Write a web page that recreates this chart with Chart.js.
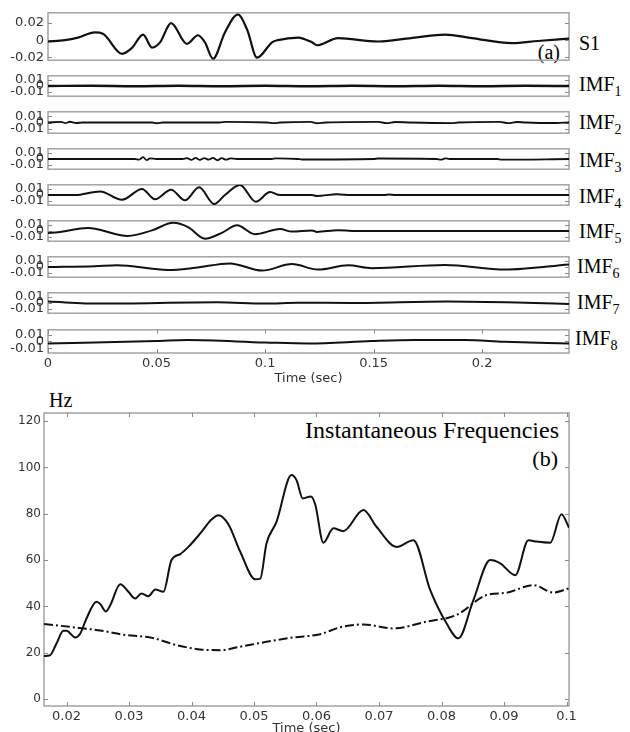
<!DOCTYPE html>
<html><head><meta charset="utf-8">
<script src="https://cdn.jsdelivr.net/npm/chart.js@4.4.1/dist/chart.umd.min.js"></script>
<style>
html,body{margin:0;padding:0;background:#fff}
body{width:630px;height:732px;overflow:hidden;position:relative}
canvas{position:absolute;left:0}
.lbl{position:absolute;font-family:'Liberation Serif','Times New Roman',serif;color:#000;white-space:nowrap;line-height:1;font-size:20px}
.lbl sub{font-size:14px;vertical-align:-5px;line-height:1}
</style></head><body>
<div class="lbl" style="left:579px;top:33px">S1</div>
<div class="lbl" style="left:579px;top:74px">IMF<sub>1</sub></div>
<div class="lbl" style="left:579px;top:112px">IMF<sub>2</sub></div>
<div class="lbl" style="left:579px;top:150px">IMF<sub>3</sub></div>
<div class="lbl" style="left:579px;top:186px">IMF<sub>4</sub></div>
<div class="lbl" style="left:579px;top:221px">IMF<sub>5</sub></div>
<div class="lbl" style="left:577px;top:256px">IMF<sub>6</sub></div>
<div class="lbl" style="left:577px;top:292px">IMF<sub>7</sub></div>
<div class="lbl" style="left:575px;top:328px">IMF<sub>8</sub></div>
<div class="lbl" style="right:70px;top:42px">(a)</div>
<div class="lbl" style="left:49px;top:390px">Hz</div>
<div class="lbl" style="right:71px;top:418px;font-size:24px">Instantaneous Frequencies</div>
<div class="lbl" style="right:72px;top:448px;font-size:22px">(b)</div>
<script>
// ---------- DATA ----------
const timeTicksTop = [0, 0.05, 0.1, 0.15, 0.2];
const s1Ticks = [-0.02, 0, 0.02];
const imfTicks = [-0.01, 0, 0.01];

const tS1 = [0, 0.0078, 0.0138, 0.0216, 0.0253, 0.0341, 0.0387, 0.0438, 0.0479, 0.0516, 0.0567, 0.064, 0.0691, 0.0723, 0.076, 0.0815, 0.0875, 0.0917, 0.0963, 0.1032, 0.1059, 0.1152, 0.1216, 0.1239, 0.1336, 0.152, 0.169, 0.1829, 0.1953, 0.2137, 0.2257, 0.24];
const vS1 = [-0.0016, 0, 0.003, 0.009, 0.0075, -0.016, -0.009, 0.0065, -0.0087, -0.0026, 0.020, -0.0043, 0.0057, -0.0026, -0.0218, 0.009, 0.030, 0.0125, -0.0205, -0.0026, 0, 0.003, -0.0026, -0.006, 0.0024, -0.0016, 0.003, 0.0065, 0.0024, -0.0036, -0.001, 0.0017];

const tImf1 = [0, 0.02, 0.04, 0.06, 0.08, 0.1, 0.12, 0.14, 0.16, 0.18, 0.2, 0.22, 0.24];
const vImf1 = [0, 0.0004, -0.0003, 0.0005, -0.0004, 0.0003, -0.0005, 0.0004, -0.0003, 0.0005, -0.0004, 0.0003, 0];

const tImf2 = [0, 0.006, 0.008, 0.010, 0.013, 0.016, 0.048, 0.05, 0.053, 0.079, 0.082, 0.101, 0.104, 0.107, 0.121, 0.124, 0.128, 0.152, 0.156, 0.16, 0.167, 0.186, 0.189, 0.208, 0.212, 0.216, 0.22, 0.234, 0.24];
const vImf2 = [0, 0.001, -0.001, 0.0012, -0.0008, 0, 0, -0.0012, 0, 0, 0.001, 0, -0.001, 0, 0.001, -0.0012, 0, 0.001, -0.001, 0.0008, 0, -0.001, 0, 0.001, -0.001, 0.0008, 0, -0.0008, 0];

const tImf3 = [0, 0.04, 0.042, 0.0438, 0.0455, 0.047, 0.05, 0.062, 0.064, 0.066, 0.068, 0.070, 0.072, 0.074, 0.076, 0.078, 0.080, 0.082, 0.084, 0.087, 0.103, 0.105, 0.115, 0.117, 0.15, 0.152, 0.179, 0.181, 0.183, 0.185, 0.207, 0.209, 0.24];
const vImf3 = [0, 0, -0.001, 0.003, -0.002, 0.001, 0, 0, 0.0015, -0.0015, 0.0018, -0.0015, 0.0015, -0.0012, 0.0018, -0.002, 0.0015, -0.0012, 0.001, 0, 0, 0.001, 0, -0.0008, 0, 0.0008, 0, -0.0012, 0.001, 0, 0, -0.0012, 0];

const tImf4 = [0, 0.0124, 0.024, 0.0341, 0.0433, 0.0493, 0.0567, 0.0631, 0.0696, 0.0766, 0.0815, 0.0884, 0.0957, 0.1023, 0.1069, 0.1216, 0.1239, 0.1331, 0.14, 0.155, 0.157, 0.16, 0.24];
const vImf4 = [0, -0.0002, 0.006, -0.008, 0.01, -0.0072, 0.0088, -0.0088, 0.0128, -0.0152, 0, 0.0168, -0.0112, 0.0048, 0, 0, -0.0016, 0.0012, 0, 0, 0.0008, 0, 0];

const tImf5 = [0, 0.0046, 0.0184, 0.0368, 0.0479, 0.0576, 0.0645, 0.0723, 0.0801, 0.0871, 0.0953, 0.1069, 0.1124, 0.1216, 0.1239, 0.1336, 0.1437, 0.24];
const vImf5 = [-0.0032, -0.002, 0.0052, -0.0083, 0.001, 0.0137, 0.0065, -0.013, -0.003, 0.0095, -0.0053, 0.0032, -0.001, 0.001, -0.0015, 0.0012, 0, 0];

const tImf6 = [0, 0.0216, 0.0318, 0.0553, 0.0677, 0.0838, 0.0986, 0.1124, 0.1244, 0.1382, 0.1492, 0.1829, 0.2105, 0.24];
const vImf6 = [0, 0.0014, 0.003, -0.005, -0.0014, 0.006, -0.006, 0.0048, -0.0043, 0.0029, -0.0019, 0.0033, -0.0043, 0.0043];

const tImf7 = [0, 0.024, 0.078, 0.1, 0.115, 0.14, 0.184, 0.22, 0.24];
const vImf7 = [0.0024, -0.001, 0.0012, -0.001, 0.0005, 0, 0.0025, 0.0005, -0.0015];

const tImf8 = [0, 0.05, 0.064, 0.1, 0.12, 0.149, 0.169, 0.192, 0.21, 0.24];
const vImf8 = [-0.003, 0.0005, 0.002, -0.0015, -0.003, 0.0005, 0.002, 0.002, -0.0005, -0.003];

const freqTimeTicks = [0.02, 0.03, 0.04, 0.05, 0.06, 0.07, 0.08, 0.09, 0.1];
const freqHzTicks = [0, 20, 40, 60, 80, 100, 120];

const tFreqSolid = [0.0164, 0.0174, 0.0184, 0.0195, 0.0200, 0.0214, 0.0222, 0.0232, 0.0248, 0.0254, 0.0263, 0.0270, 0.0286, 0.0299, 0.0310, 0.0320, 0.0331, 0.0342, 0.0355, 0.0368, 0.0382, 0.0395, 0.0414, 0.0432, 0.0443, 0.0459, 0.0478, 0.0502, 0.0510, 0.0520, 0.0536, 0.0560, 0.0568, 0.0578, 0.0591, 0.0598, 0.0611, 0.0627, 0.0643, 0.0675, 0.0696, 0.0728, 0.0755, 0.0782, 0.0808, 0.0827, 0.0851, 0.0878, 0.0894, 0.0918, 0.0939, 0.0952, 0.0974, 0.0992, 0.1004];
const vFreqSolid = [18.6, 19, 24, 29.5, 29.5, 26.6, 28.3, 34.8, 42, 41, 37.8, 40.5, 49.6, 46.3, 43.4, 45.6, 44.4, 47.3, 46.3, 60, 62.6, 65.7, 71.5, 77.5, 79.4, 75.5, 63.6, 51.7, 52, 67.2, 76.5, 96.7, 94.5, 86.6, 87.5, 84, 67.5, 73.7, 72.5, 81.6, 74.4, 65.7, 68.6, 47, 32.7, 26.2, 42.7, 60, 58.6, 53.5, 68.6, 68, 67.5, 79.8, 74];

const tFreqDash = [0.0164, 0.0227, 0.0254, 0.0296, 0.0334, 0.0376, 0.0414, 0.0446, 0.0478, 0.0520, 0.0563, 0.0606, 0.0638, 0.0675, 0.0723, 0.0776, 0.0824, 0.0872, 0.0904, 0.0947, 0.0979, 0.1004];
const vFreqDash = [32.4, 30.5, 29.6, 27.6, 26.6, 23.3, 21.4, 21.1, 22.6, 24.7, 26.6, 28, 31, 32.2, 30.5, 33.4, 36.3, 44.9, 45.9, 49.2, 46, 47.8];

// ---------- LAYOUT ----------
const topBoxes = [[9,64],[72,100],[108,137],[145,173],[181,209],[217,245],[253,281],[289,317],[326,353]];
const TICK_FONT = {family:"'DejaVu Sans', Arial, sans-serif", size:13};
const TICK_COLOR = '#333';

const framePlugin = {
  id:'frame',
  beforeDatasetsDraw(chart, args, opts){
    const {ctx, chartArea:a, scales} = chart;
    ctx.save();
    ctx.strokeStyle = '#a3a3a3'; ctx.lineWidth = 1.5;
    ctx.strokeRect(a.left, a.top, a.right-a.left, a.bottom-a.top);
    ctx.strokeStyle = '#8a8a8a'; ctx.lineWidth = 1;
    const L = 4;
    const y = scales.y;
    ctx.beginPath();
    y.ticks.forEach(t=>{
      const py = Math.round(y.getPixelForValue(t.value))+0.5;
      ctx.moveTo(a.left, py); ctx.lineTo(a.left+L, py);
      ctx.moveTo(a.right, py); ctx.lineTo(a.right-L, py);
    });
    if (opts.xTicks){
      const x = scales.x;
      x.ticks.forEach(t=>{
        const px = Math.round(x.getPixelForValue(t.value))+0.5;
        ctx.moveTo(px, a.top); ctx.lineTo(px, a.top+L);
        ctx.moveTo(px, a.bottom); ctx.lineTo(px, a.bottom-L);
      });
    }
    ctx.stroke();
    ctx.restore();
  }
};

function pts(ts, vs){ return ts.map((t,k)=>({x:t, y:vs[k]})); }

function makeTop(idx, times, vals, yTicks, yMin, yMax, lw, isLast){
  const [bt, bb] = topBoxes[idx];
  const pad = 8, xAxisH = 37;
  const c = document.createElement('canvas');
  const h = (bb-bt) + pad + (isLast ? xAxisH : pad);
  c.width = 630; c.height = h;
  c.style.top = (bt - pad) + 'px';
  document.body.appendChild(c);
  new Chart(c, {
    type:'line',
    data:{datasets:[{data:pts(times, vals), borderColor:'#111', borderWidth:lw, pointRadius:0, cubicInterpolationMode:'monotone', fill:false}]},
    options:{
      responsive:false, animation:false, devicePixelRatio:1, events:[],
      layout:{padding:{left:0, right:61, top:pad, bottom:isLast?0:pad}},
      plugins:{legend:{display:false}, tooltip:{enabled:false}, frame:{xTicks:isLast}},
      scales:{
        x:{type:'linear', min:0, max:0.24, display:isLast,
           afterBuildTicks:s=>{ s.ticks = timeTicksTop.map(v=>({value:v})); },
           afterFit:s=>{ s.height = isLast ? xAxisH : 0; },
           grid:{display:false, drawTicks:false}, border:{display:false},
           ticks:{font:TICK_FONT, color:TICK_COLOR, padding:3, autoSkip:false, maxRotation:0, callback:v=>String(v)},
           title:{display:true, text:'Time (sec)', font:TICK_FONT, color:TICK_COLOR, padding:{top:0, bottom:4}}},
        y:{type:'linear', min:yMin, max:yMax,
           afterBuildTicks:s=>{ s.ticks = yTicks.map(v=>({value:v})); },
           afterFit:s=>{ s.width = 48; },
           grid:{display:false, drawTicks:false}, border:{display:false},
           ticks:{font:TICK_FONT, color:TICK_COLOR, padding:4, autoSkip:false, callback:v=>String(v)}}
      }
    },
    plugins:[framePlugin]
  });
}

makeTop(0, tS1, vS1, s1Ticks, -0.0235, 0.032, 2.2, false);
makeTop(1, tImf1, vImf1, imfTicks, -0.017, 0.017, 2.4, false);
makeTop(2, tImf2, vImf2, imfTicks, -0.017, 0.017, 1.8, false);
makeTop(3, tImf3, vImf3, imfTicks, -0.017, 0.017, 1.8, false);
makeTop(4, tImf4, vImf4, imfTicks, -0.017, 0.017, 2, false);
makeTop(5, tImf5, vImf5, imfTicks, -0.017, 0.017, 2, false);
makeTop(6, tImf6, vImf6, imfTicks, -0.017, 0.017, 2, false);
makeTop(7, tImf7, vImf7, imfTicks, -0.017, 0.017, 2, false);
makeTop(8, tImf8, vImf8, imfTicks, -0.017, 0.017, 2, true);

// bottom panel
(function(){
  const c = document.createElement('canvas');
  c.width = 630; c.height = 340; c.style.top = '400px';
  document.body.appendChild(c);
  new Chart(c, {
    type:'line',
    data:{datasets:[
      {data:pts(tFreqSolid, vFreqSolid), borderColor:'#111', borderWidth:2, pointRadius:0, cubicInterpolationMode:'monotone', fill:false},
      {data:pts(tFreqDash, vFreqDash), borderColor:'#111', borderWidth:2, borderDash:[9,3,2,3], pointRadius:0, cubicInterpolationMode:'monotone', fill:false}
    ]},
    options:{
      responsive:false, animation:false, devicePixelRatio:1, events:[],
      layout:{padding:{left:0, right:61, top:13, bottom:0}},
      plugins:{legend:{display:false}, tooltip:{enabled:false}, frame:{xTicks:true}},
      scales:{
        x:{type:'linear', min:0.0164, max:0.1004,
           afterBuildTicks:s=>{ s.ticks = freqTimeTicks.map(v=>({value:v})); },
           afterFit:s=>{ s.height = 34; },
           grid:{display:false, drawTicks:false}, border:{display:false},
           ticks:{font:TICK_FONT, color:TICK_COLOR, padding:3, autoSkip:false, maxRotation:0, callback:v=>String(v)},
           title:{display:true, text:'Time (sec)', font:TICK_FONT, color:TICK_COLOR, padding:{top:0, bottom:4}}},
        y:{type:'linear', min:-3, max:123.5,
           afterBuildTicks:s=>{ s.ticks = freqHzTicks.map(v=>({value:v})); },
           afterFit:s=>{ s.width = 44; },
           grid:{display:false, drawTicks:false}, border:{display:false},
           ticks:{font:{family:"'DejaVu Sans', Arial, sans-serif", size:12}, color:TICK_COLOR, padding:3, autoSkip:false, callback:v=>String(v)}}
      }
    },
    plugins:[framePlugin]
  });
})();
</script>
</body></html>
